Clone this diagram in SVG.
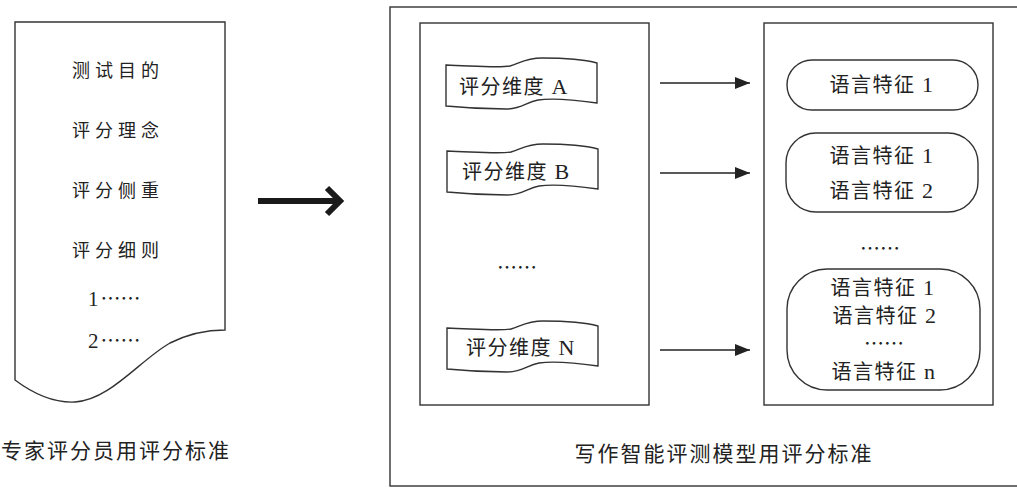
<svg xmlns="http://www.w3.org/2000/svg" width="1017" height="489" viewBox="0 0 1017 489">
<style>
.ln{fill:none;stroke:#333;stroke-width:1.4}
.box{fill:#fff;stroke:#333;stroke-width:1.4}
text{font-family:"Liberation Serif","Noto Sans CJK SC",serif;fill:#222}
.doc{font-size:18px;letter-spacing:5px}
.cap{font-size:21px;letter-spacing:2px;text-anchor:middle}
.lbl{font-size:20px;letter-spacing:1.5px}
.mid{text-anchor:middle}
.el{font-family:"Noto Sans CJK SC",sans-serif}
.lat{font-size:22px}
.conn{fill:none;stroke:#222;stroke-width:1.3}
</style>
<defs>
<marker id="ah" markerWidth="16" markerHeight="12" refX="15" refY="6" orient="auto" markerUnits="userSpaceOnUse">
<path d="M0,0 L15,6 L0,12 Z" fill="#222"/>
</marker>
<path id="tape" d="M0,0 C30,1 52,3 64,1 C74,-2 80,-7 96,-7 C120,-7 140,-5 151,-2 L151,38 C130,35 105,33 92,35 C80,37 76,44 60,44 C40,44 20,43 0,41 Z"/>
</defs>
<rect width="1017" height="489" fill="#fff"/>

<g id="expert-doc">
<path class="box" d="M15,22 L225,22 L225,330 C210,330 190,333 170,343 C140,360 110,400 75,402 C55,403 35,395 15,380 Z"/>
<text class="doc" x="72" y="77">测试目的</text>
<text class="doc" x="72" y="137">评分理念</text>
<text class="doc" x="72" y="197">评分侧重</text>
<text class="doc" x="72" y="257">评分细则</text>
<text x="88" y="306" font-size="21">1<tspan class="el" font-size="20" dx="2">……</tspan></text>
<text x="88" y="348" font-size="21">2<tspan class="el" font-size="20" dx="2">……</tspan></text>
</g>
<text id="cap-left" class="cap" x="116" y="458">专家评分员用评分标准</text>

<g id="big-arrow">
<line x1="258" y1="201" x2="337" y2="201" stroke="#1a1a1a" stroke-width="6"/>
<polyline points="327,188 340,201 327,214" fill="none" stroke="#1a1a1a" stroke-width="6"/>
</g>

<g id="model-frame">
<rect class="ln" x="390" y="7" width="700" height="479"/>
<text class="cap" x="724" y="461">写作智能评测模型用评分标准</text>
</g>

<g id="dims-box">
<rect class="box" x="420" y="23" width="229" height="382"/>
</g>
<g id="dim-a">
<use href="#tape" class="box" transform="translate(446,65)"/>
<text class="lbl" x="459" y="94">评分维度 <tspan class="lat">A</tspan></text>
</g>
<g id="dim-b">
<use href="#tape" class="box" transform="translate(447,151)"/>
<text class="lbl" x="462" y="179">评分维度 <tspan class="lat">B</tspan></text>
</g>
<text id="dim-ellipsis" class="el" x="497" y="275" font-size="20">……</text>
<g id="dim-n">
<use href="#tape" class="box" transform="translate(447,328)"/>
<text class="lbl" x="466" y="355">评分维度 <tspan class="lat">N</tspan></text>
</g>

<g id="feat-box">
<rect class="box" x="764" y="23" width="229" height="382"/>
</g>
<g id="feat-1">
<rect class="box" x="787" y="60" width="191" height="50" rx="25"/>
<text class="lbl mid" x="882" y="92">语言特征 <tspan class="lat">1</tspan></text>
</g>
<g id="feat-2">
<rect class="box" x="786" y="133" width="192" height="79" rx="30"/>
<text class="lbl mid" x="882" y="163">语言特征 <tspan class="lat">1</tspan></text>
<text class="lbl mid" x="882" y="198">语言特征 <tspan class="lat">2</tspan></text>
</g>
<text id="feat-ellipsis" class="el mid" x="880" y="256" font-size="20">……</text>
<g id="feat-n">
<rect class="box" x="787" y="269" width="193" height="121" rx="40"/>
<text class="lbl mid" x="883" y="295">语言特征 <tspan class="lat">1</tspan></text>
<text class="lbl mid" x="885" y="323">语言特征 <tspan class="lat">2</tspan></text>
<text class="el mid" x="884" y="351" font-size="20">……</text>
<text class="lbl mid" x="884" y="379">语言特征 <tspan class="lat">n</tspan></text>
</g>

<g id="connectors">
<line class="conn" x1="660" y1="83" x2="750" y2="83" marker-end="url(#ah)"/>
<line class="conn" x1="660" y1="173" x2="750" y2="173" marker-end="url(#ah)"/>
<line class="conn" x1="660" y1="350" x2="750" y2="350" marker-end="url(#ah)"/>
</g>
</svg>
